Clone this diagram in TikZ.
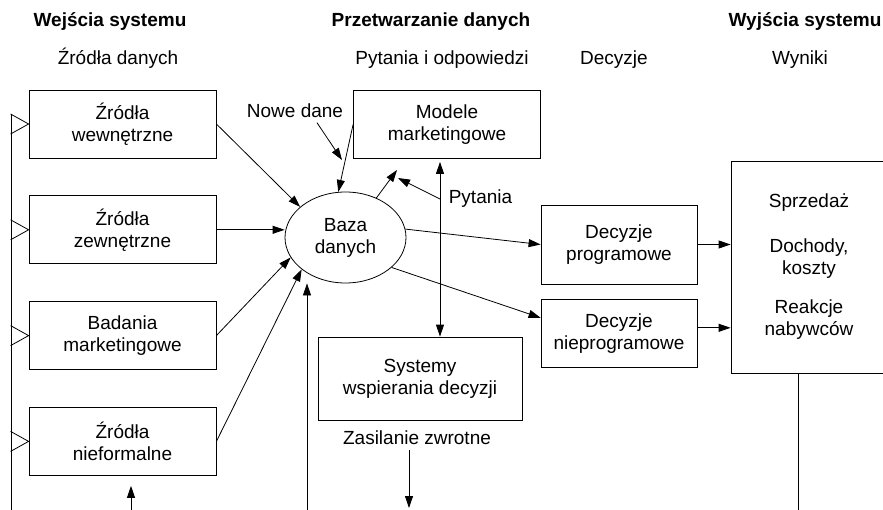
\documentclass[tikz,border=0pt]{standalone}
\usepackage{fontspec}
\setmainfont{Liberation Sans}
\usepackage{tikz}
\usetikzlibrary{arrows.meta,positioning,calc,shapes.geometric}

\begin{document}
\begin{tikzpicture}[
  x=0.75pt, y=-0.75pt,
  font=\fontsize{14.25}{16.5}\selectfont,
  node distance=27.75pt,
  box/.style={draw, line width=0.6pt, minimum width=140.25pt, minimum height=51pt, align=center, inner sep=2pt},
  arr/.style={-{Triangle[length=9pt,width=6pt]}, line width=0.6pt},
  arrs/.style={{Triangle[length=9pt,width=6pt]}-{Triangle[length=9pt,width=6pt]}, line width=0.6pt},
  head/.style={font=\fontsize{14.25}{16.5}\selectfont\bfseries, anchor=base},
  sub/.style={anchor=base}
]
  \useasboundingbox (0,0) rectangle (883,510);

  % naglowki
  \node[head] (hwe) at (110,27) {Wejścia systemu};
  \node[head] (hpr) at (431,27) {Przetwarzanie danych};
  \node[head] (hwy) at (805,27) {Wyjścia systemu};
  \node[sub] (hzr) at (118,65) {Źródła danych};
  \node[sub] (hpo) at (442,65) {Pytania i odpowiedzi};
  \node[sub] (hde) at (614,65) {Decyzje};
  \node[sub] (hwn) at (800,65) {Wyniki};

  % zrodla danych
  \node[box] (wew) at (122.5,124) {Źródła\\wewnętrzne};
  \node[box, below=of wew] (zew) {Źródła\\zewnętrzne};
  \node[box, below=of zew] (bad) {Badania\\marketingowe};
  \node[box, below=of bad] (nief) {Źródła\\nieformalne};

  % przetwarzanie
  \node[ellipse, draw, line width=0.6pt, minimum width=90.75pt, minimum height=68.25pt, inner sep=0pt, align=center] (baza) at (345.5,237.5) {Baza\\danych};
  \node[box] (mod) at (447,124.5) {Modele\\marketingowe};
  \node[box, minimum width=153pt, minimum height=62.25pt] (sys) at (420,378.5) {Systemy\\wspierania decyzji};
  \node (nowe) at (295,111) {Nowe dane};
  \node (pyt) at (480.5,199) {Pytania};
  \node (zas) at (417,438) {Zasilanie zwrotne};

  % decyzje i wyniki
  \node[box, minimum width=117pt, minimum height=59.25pt] (dp) at (619,244.5) {Decyzje\\programowe};
  \node[box, minimum width=117pt, below=11.25pt of dp] (dn) {Decyzje\\nieprogramowe};
  \node[box, minimum width=117pt, minimum height=159pt] (wyn) at (809,267) {Sprzedaż\\[17pt]Dochody,\\koszty\\[13pt]Reakcje\\nabywców};

  \coordinate (lt) at (11,114);
  \coordinate (lb) at (11,510);
  \coordinate (nd) at (342,160);
  \coordinate (qa) at (397,170);
  \coordinate (qb) at (398,178);
  \coordinate (vq) at ($(mod.south)+(-7,3)$);
  \coordinate (fb1) at (131,510);
  \coordinate (fb2) at (307,510);
  \coordinate (fz) at (409,508);
  \coordinate (fw) at (798,510);

  % wejscia
  \draw[line width=0.6pt] (lt) -- (lb);
  \foreach \b in {wew,zew,bad,nief}
    \draw[line width=0.6pt] ($(\b.west)+(-18,-10)$) -- (\b.west) -- ($(\b.west)+(-18,10)$);
  \draw[arr] (wew.east) -- (baza.146);
  \draw[arr] (zew.east) -- (zew.east -| baza.west);
  \draw[arr] (bad.east) -- (baza.200);
  \draw[arr] (nief.east) -- (baza.216);
  \draw[arr] ($(nowe.south)+(22,0)$) -- (nd);
  \draw[arr] (mod.west) -- (baza.99);
  \draw[arr] (baza.52) -- (qa);
  \draw[arr] (pyt.west -| vq) -- (qb);
  \draw[arrs] (vq) -- (vq |- sys.north);

  % wyjscia
  \draw[arr] (baza.8) -- (dp.west);
  \draw[arr] (baza.-33) -- ($(dn.west)+(0,-16)$);
  \draw[arr] (dp.east) -- (dp.east -| wyn.west);
  \draw[arr] ($(dn.east)+(0,-6)$) -- ($(dn.east -| wyn.west)+(0,-6)$);

  % sprzezenia
  \draw[arr] (fb1) -- ($(fb1 |- nief.south)+(0,10)$);
  \draw[arr] (fb2) -- (fb2 |- baza.south);
  \draw[arr] (fz |- zas.south) -- (fz);
  \draw[line width=0.6pt] (fw |- wyn.south) -- (fw);
\end{tikzpicture}
\end{document}
